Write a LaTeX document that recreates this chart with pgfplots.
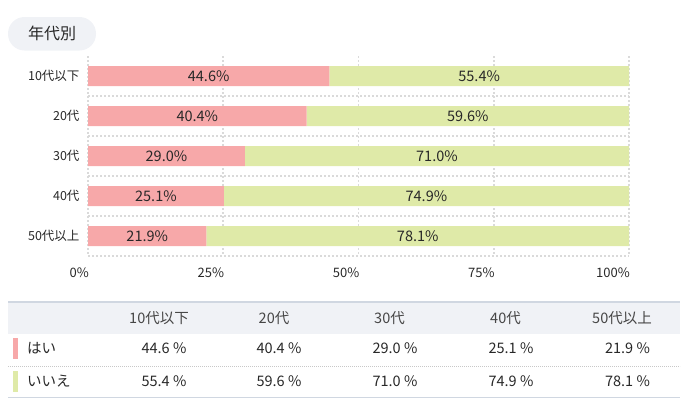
\documentclass[border=0pt]{standalone}
\usepackage{fontspec}
\setmainfont{Noto Sans CJK JP}
\usepackage{pgfplots}
\pgfplotsset{compat=1.18}
\usepackage{pgfplotstable}
\definecolor{pinkbar}{RGB}{247,168,169}
\definecolor{greenbar}{RGB}{223,234,168}
\definecolor{pillbg}{RGB}{240,242,246}
\definecolor{txt}{RGB}{40,40,40}
\definecolor{hdrtxt}{RGB}{70,70,70}
\definecolor{gridc}{RGB}{218,218,218}
\definecolor{tline}{RGB}{208,215,225}
\definecolor{dotc}{RGB}{200,200,200}
\tikzset{
  barlab/.style={font=\fontsize{14.5bp}{16bp}\selectfont, text=txt, inner sep=0pt},
  tab/.style={font=\fontsize{14.5bp}{16bp}\selectfont, text=txt, inner sep=0pt},
  hdr/.style={font=\fontsize{14.5bp}{16bp}\selectfont, text=hdrtxt, inner sep=0pt},
}
\pgfplotsset{
  chartgeom/.style={
    at={(88bp,-256bp)}, anchor=south west,
    scale only axis, width=541bp, height=200bp,
    xmin=0, xmax=100, ymin=-0.5, ymax=4.5, y dir=reverse,
  },
}

\pgfplotstableread{
pos hai iie
0 44.6 55.4
1 40.4 59.6
2 29.0 71.0
3 25.1 74.9
4 21.9 78.1
}\agedata

\begin{document}
\begin{tikzpicture}
\path[use as bounding box] (0,0) rectangle (699bp,-420bp);
% title pill
\fill[pillbg, rounded corners=16.5bp] (8bp,-17bp) rectangle (96bp,-50.5bp);
\node[font=\fontsize{16bp}{18bp}\selectfont, text=txt, inner sep=0pt] at (52bp,-33.5bp) {年代別};

\begin{axis}[
  chartgeom,
  xbar stacked, bar width=20bp,
  axis line style={draw=none},
  xtick={0,25,50,75,100}, xticklabels={0\%,25\%,50\%,75\%,100\%},
  ytick={0,1,2,3,4}, yticklabels={10代以下,20代,30代,40代,50代以上},
  minor ytick={0.5,1.5,2.5,3.5,4.5},
  major tick length=0pt, minor tick length=0pt,
  xmajorgrids, yminorgrids,
  major grid style={gridc, line width=1.6bp, dash pattern=on 2bp off 2bp},
  minor grid style={gridc, line width=1.6bp, dash pattern=on 2bp off 2bp},
  xticklabel style={font=\fontsize{13bp}{14bp}\selectfont, text=txt, anchor=north east, inner sep=0pt, xshift=1bp, yshift=-11.5bp},
  yticklabel style={font=\fontsize{12.5bp}{14bp}\selectfont, text=txt, xshift=-5bp},
]
\addplot[fill=pinkbar, draw=none] table[x=hai, y=pos] {\agedata};
\addplot[fill=greenbar, draw=none] table[x=iie, y=pos] {\agedata};
\end{axis}

% value labels, on an overlaid axis with the same geometry
\begin{axis}[chartgeom, hide axis]
\addplot[draw=none, mark=none, nodes near coords, point meta=explicit symbolic,
  every node near coord/.style={barlab, anchor=center}]
  coordinates {
  (22.3,0) [44.6\%] (72.3,0) [55.4\%]
  (20.2,1) [40.4\%] (70.2,1) [59.6\%]
  (14.5,2) [29.0\%] (64.5,2) [71.0\%]
  (12.55,3) [25.1\%] (62.55,3) [74.9\%]
  (10.95,4) [21.9\%] (60.95,4) [78.1\%]
  };
\end{axis}

% table
\fill[pillbg] (8bp,-302bp) rectangle (680bp,-334bp);
\draw[tline, line width=1.2bp] (8bp,-302bp) -- (680bp,-302bp);
\draw[dotc, line width=0.8bp, dash pattern=on 1bp off 1bp] (8bp,-366bp) -- (680bp,-366bp);
\draw[tline, line width=1.2bp] (8bp,-397.5bp) -- (680bp,-397.5bp);
\fill[pinkbar] (13bp,-338bp) rectangle (18bp,-359bp);
\fill[greenbar] (13bp,-371bp) rectangle (18bp,-392bp);
\node[hdr] at (159bp,-318bp) {10代以下};
\node[hdr] at (274bp,-318bp) {20代};
\node[hdr] at (389.5bp,-318bp) {30代};
\node[hdr] at (505.5bp,-318bp) {40代};
\node[hdr] at (622bp,-318bp) {50代以上};
\node[tab, anchor=west] at (27bp,-348.5bp) {はい};
\node[tab, anchor=west] at (27bp,-381.5bp) {いいえ};
\node[tab] at (164bp,-348.5bp) {44.6 \%};
\node[tab] at (279bp,-348.5bp) {40.4 \%};
\node[tab] at (395bp,-348.5bp) {29.0 \%};
\node[tab] at (511bp,-348.5bp) {25.1 \%};
\node[tab] at (627.5bp,-348.5bp) {21.9 \%};
\node[tab] at (164bp,-381.5bp) {55.4 \%};
\node[tab] at (279bp,-381.5bp) {59.6 \%};
\node[tab] at (395bp,-381.5bp) {71.0 \%};
\node[tab] at (511bp,-381.5bp) {74.9 \%};
\node[tab] at (627.5bp,-381.5bp) {78.1 \%};
\end{tikzpicture}
\end{document}
